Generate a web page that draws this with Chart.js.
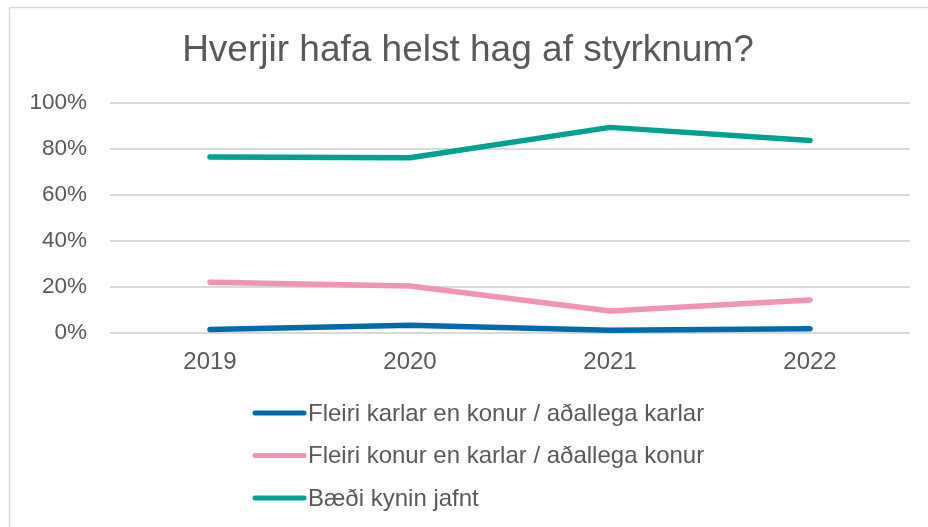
<!DOCTYPE html>
<html>
<head>
<meta charset="utf-8">
<script src="https://cdn.jsdelivr.net/npm/chart.js@4/dist/chart.umd.min.js"></script>
<style>
  html, body { margin: 0; padding: 0; background: #fff; overflow: hidden; }
  #wrap { width: 928px; height: 527px; position: relative; }
</style>
</head>
<body>
<div id="wrap"><canvas id="myChart" width="928" height="527"></canvas></div>
<script>
// data
const years = ['2019', '2020', '2021', '2022'];
const seriesNames = [
    'Fleiri karlar en konur / aðallega karlar',
    'Fleiri konur en karlar / aðallega konur',
    'Bæði kynin jafnt'
];
const karlar = [1.5, 3.4, 1.2, 1.8];
const konur = [22.1, 20.4, 9.6, 14.4];
const jafnt = [76.5, 76.2, 89.4, 83.7];
const yTicks = [0, 20, 40, 60, 80, 100];

const colors = ['#006AAB', '#F093B6', '#00A092'];
const textColor = '#595959';
const fontName = "'Liberation Sans', Arial, sans-serif";

// grey frame around the whole chart
const framePlugin = {
    id: 'frame',
    beforeDraw(chart) {
        const ctx = chart.ctx;
        ctx.save();
        ctx.strokeStyle = '#d9d9d9';
        ctx.lineWidth = 1.5;
        ctx.strokeRect(9.5, 7.5, 1000, 1000);
        ctx.restore();
    }
};

// stacked legend under the chart, left aligned
const listLegend = {
    id: 'listLegend',
    afterDraw(chart) {
        const ctx = chart.ctx;
        ctx.save();
        ctx.font = '24px ' + fontName;
        ctx.textBaseline = 'middle';
        ctx.textAlign = 'left';
        chart.data.datasets.forEach(function(ds, i) {
            const y = 413 + i * 42.5;
            ctx.strokeStyle = ds.borderColor;
            ctx.lineWidth = 5;
            ctx.lineCap = 'round';
            ctx.beginPath();
            ctx.moveTo(255, y);
            ctx.lineTo(304, y);
            ctx.stroke();
            ctx.fillStyle = textColor;
            ctx.fillText(ds.label, 308, y + 1);
        });
        ctx.restore();
    }
};

const values = [karlar, konur, jafnt];
const datasets = [];
for (let i = 0; i < values.length; i++) {
    datasets.push({
        label: seriesNames[i],
        data: values[i],
        borderColor: colors[i],
        backgroundColor: colors[i],
        borderWidth: 5.5,
        borderCapStyle: 'round',
        borderJoinStyle: 'round',
        pointRadius: 0,
        pointHoverRadius: 0,
        tension: 0
    });
}

new Chart(document.getElementById('myChart'), {
    type: 'line',
    data: { labels: years, datasets: datasets },
    plugins: [framePlugin, listLegend],
    options: {
        responsive: false,
        animation: false,
        events: [],
        layout: { padding: { left: 26, right: 18, bottom: 154 } },
        plugins: {
            legend: { display: false },
            tooltip: { enabled: false },
            title: {
                display: true,
                text: 'Hverjir hafa helst hag af styrknum?',
                color: textColor,
                font: { family: fontName, size: 37, weight: 'normal' },
                padding: { top: 29, bottom: 29.6 }
            }
        },
        scales: {
            x: {
                offset: true,
                afterFit(scale) { scale.height = 40; },
                grid: { display: false, drawTicks: false },
                border: { display: false },
                ticks: {
                    color: textColor,
                    padding: 14.6,
                    font: { family: fontName, size: 24 }
                }
            },
            y: {
                min: 0,
                max: 100,
                afterFit(scale) { scale.width = 84; },
                afterBuildTicks(scale) {
                    scale.ticks = yTicks.map(v => ({ value: v }));
                },
                grid: { color: '#d9d9d9', lineWidth: 2, drawTicks: false },
                border: { display: false },
                ticks: {
                    color: textColor,
                    padding: 23,
                    font: { family: fontName, size: 22.5 },
                    callback: v => v + '%'
                }
            }
        }
    }
});
</script>
</body>
</html>
